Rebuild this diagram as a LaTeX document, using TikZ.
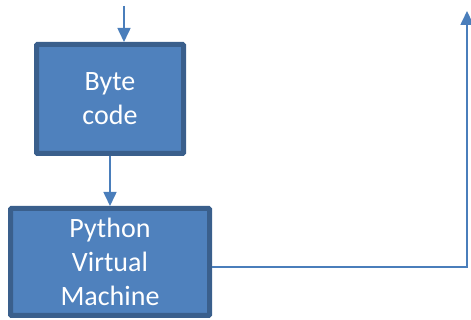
\documentclass[tikz,border=0pt]{standalone}
\usepackage{fontspec}
\setmainfont{Carlito}
\usetikzlibrary{arrows.meta}

\definecolor{boxfill}{HTML}{4F81BD}
\definecolor{boxedge}{HTML}{3A5F8C}
\definecolor{wire}{HTML}{4A7EBB}

\begin{document}
\begin{tikzpicture}[x=1pt, y=1pt,
		stagebox/.style={draw=boxedge, line width=5pt, fill=boxfill, rounded corners=1pt,
			text=white, align=center, inner sep=0pt, font=\fontsize{28}{34}\selectfont},
		wire/.style={draw=wire, line width=1.6pt, -{Triangle[width=13pt, length=14pt]}}]
	\useasboundingbox (0, 0) rectangle (471, 320);
	
	\node[stagebox, minimum width=147pt, minimum height=109pt] (bytecode) at (110, 221) {Byte\\code};
	\node[stagebox, minimum width=199pt, minimum height=107pt] (pvm) at (110, 58) {Python\\Virtual\\Machine};
	
	\coordinate (in) at (124, 314);
	\coordinate (out) at (467, 309);
	
	\draw[wire] (in) -- (in |- bytecode.north);
	\draw[wire] (bytecode.south) -- (pvm.north);
	\draw[wire] ([yshift=-5pt]pvm.east) -| (out);
\end{tikzpicture}
\end{document}
